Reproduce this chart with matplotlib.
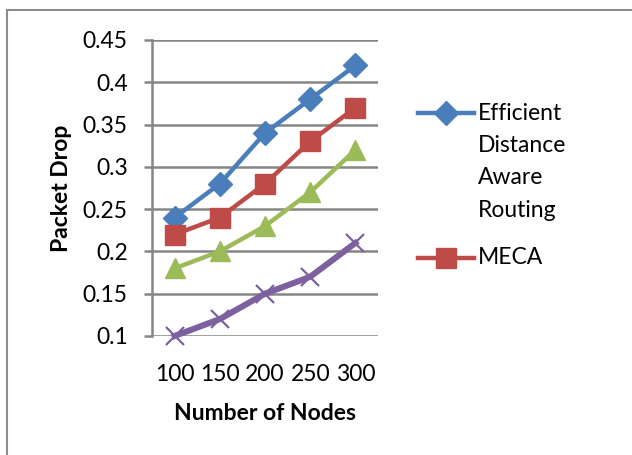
import matplotlib
matplotlib.use("Agg")
import matplotlib.pyplot as plt
from matplotlib.lines import Line2D

categories = ["100", "150", "200", "250", "300"]
edar = [0.24, 0.28, 0.34, 0.38, 0.42]
meca = [0.22, 0.24, 0.28, 0.33, 0.37]
series3 = [0.18, 0.20, 0.23, 0.27, 0.32]
series4 = [0.10, 0.12, 0.15, 0.17, 0.21]
yticks = [0.1, 0.15, 0.2, 0.25, 0.3, 0.35, 0.4, 0.45]
ytick_labels = ["0.1", "0.15", "0.2", "0.25", "0.3", "0.35", "0.4", "0.45"]
legend_labels = ["Efficient\nDistance\nAware\nRouting", "MECA"]

plt.rcParams['font.family'] = ['Lato', 'DejaVu Sans']

W, H = 632, 455
fig = plt.figure(figsize=(W/100, H/100), dpi=100)
ax = fig.add_axes([152/W, 1-336/H, (378-152)/W, (336-40)/H])

BLUE, RED, GREEN, PURPLE = "#4A7EBB", "#BE4B48", "#9BBB59", "#7D60A0"
x = list(range(len(categories)))
lw = 3.2
styles = [
    (edar, BLUE, "D", 12, lw),
    (meca, RED, "s", 14, lw),
    (series3, GREEN, "^", 14.5, lw),
    (series4, PURPLE, "x", 13.5, lw + 1.2),
]
for vals, c, m, ms, w in styles:
    ax.plot(x, vals, color=c, lw=w, marker=m, ms=ms, mew=1.6 if m == "x" else 1.0,
            zorder=5, clip_on=False)

ax.set_xlim(-0.5, 4.5)
ax.set_ylim(0.1, 0.45)
ax.set_yticks(yticks)
ax.set_yticklabels(ytick_labels)
ax.set_xticks(x)
ax.set_xticklabels(categories)
ax.yaxis.grid(True, color="#868686", lw=1.8)
ax.set_axisbelow(True)
for s in ["top", "right", "bottom"]:
    ax.spines[s].set_visible(False)
ax.spines["left"].set_color("#868686")
ax.spines["left"].set_linewidth(1.8)
ax.tick_params(axis="y", length=5.5, width=1.8, color="#868686", labelsize=16.5, pad=12)
ax.tick_params(axis="x", length=0, labelsize=16.5, pad=20)
ax.set_xlabel("Number of Nodes", fontsize=16.5, fontweight="bold", labelpad=13)
ax.set_ylabel("Packet Drop", fontsize=16.5, fontweight="bold", labelpad=8)

# legend (Excel-style: handle aligned with first text line)
leg_items = [(legend_labels[0], BLUE, "D", 12, 113), (legend_labels[1], RED, "s", 14, 258)]
for label, c, m, ms, ypx in leg_items:
    yy = 1 - ypx / H
    fig.add_artist(Line2D([418/W, 474/W], [yy, yy], color=c, lw=lw))
    fig.add_artist(Line2D([446/W], [yy], color=c, marker=m, ms=ms, lw=0))
    for i, line in enumerate(label.split("\n")):
        fig.text(478/W, 1 - (ypx + i * 32.5) / H, line, fontsize=16.5,
                 ha="left", va="center")

# outer frame
fig.add_artist(Line2D([7/W, 7/W], [0, 1-10/H], color="#8c8c8c", lw=1.5))
fig.add_artist(Line2D([7/W, 1], [1-10/H, 1-10/H], color="#8c8c8c", lw=1.5))

fig.savefig("out.png", dpi=100)
